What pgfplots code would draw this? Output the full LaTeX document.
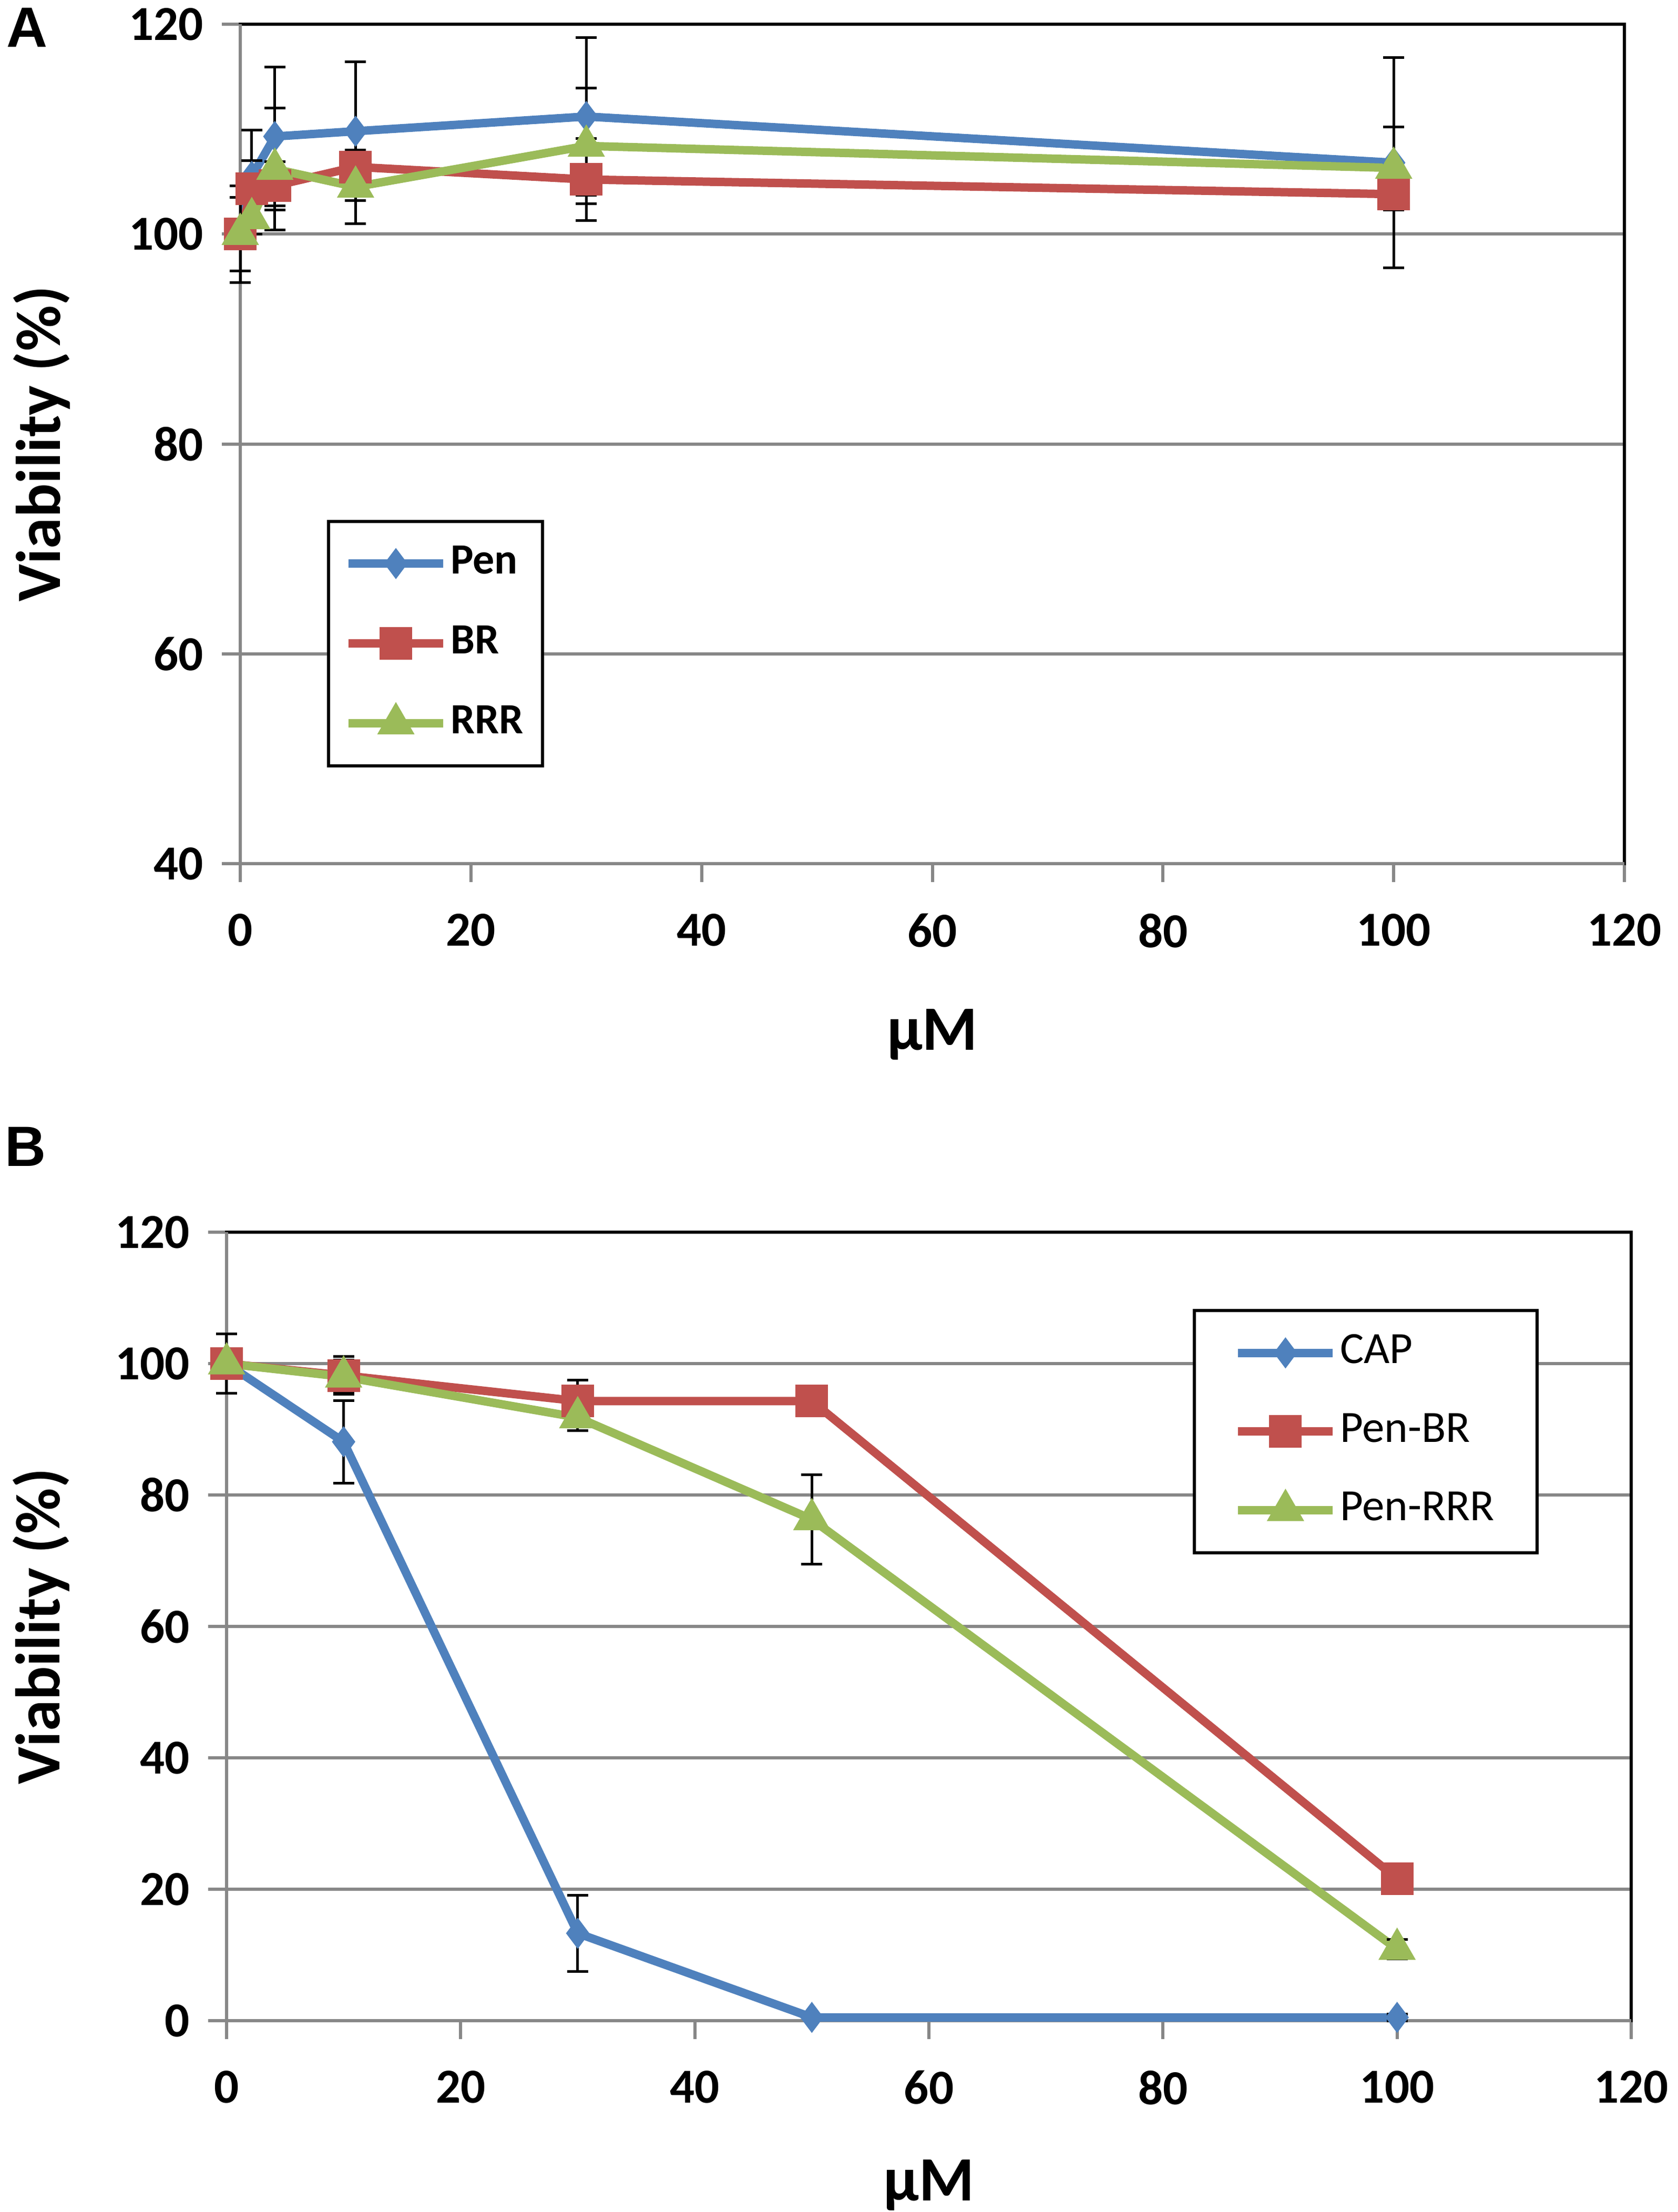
\documentclass[border=0pt]{standalone}
\usepackage{fontspec}
\setmainfont{Carlito}
\newfontfamily\arialfont{Liberation Sans}
\usepackage{pgfplots}
\pgfplotsset{compat=1.18}
\definecolor{xblue}{HTML}{4F81BD}
\definecolor{xred}{HTML}{C0504D}
\definecolor{xgreen}{HTML}{9BBB59}
\definecolor{xgrid}{HTML}{878787}

\pgfplotstableread{
x y e
0 100 4.6
1 105.5 4.4
3 109.3 6.6
10 109.8 6.6
30 111.2 7.5
100 106.8 10
}\penA
\pgfplotstableread{
x y e
0 100 3.5
1 104.3 2.7
3 104.6 2.3
10 106.4 1.5
30 105.2 3.9
100 103.8 1.5
}\brA
\pgfplotstableread{
x y e
0 100 4.6
1 101.5 1.5
3 106.2 5.8
10 104.5 3.5
30 108.4 5.5
100 106.3 3.9
}\rrrA
\pgfplotstableread{
x y e
0 100 4.5
10 88.1 6.3
30 13.3 5.8
50 0.5 0
100 0.5 0.5
}\capB
\pgfplotstableread{
x y e
0 100 2
10 98.2 2.9
30 94.3 3.2
50 94.3 0
100 21.6 1
}\brB
\pgfplotstableread{
x y e
0 100 1
10 98.0 2.5
30 91.8 2
50 76.3 6.8
100 10.9 1.5
}\rrrB

\pgfplotsset{
 excel/.style={
  scale only axis,
  clip=false,
  axis line style={black, line width=0.6pt},
  xmin=0, xmax=120, xtick={0,20,...,120},
  tick align=outside, xtick pos=left, ytick pos=left,
  major tick length=3.5pt,
  tick style={xgrid, line width=0.6pt},
  ymajorgrids, grid style={xgrid, line width=0.6pt},
  /pgf/number format/assume math mode=true,
  tick label style={font=\bfseries\fontsize{9.3}{11}\selectfont},
  xticklabel style={yshift=-2.5pt},
  label style={font=\bfseries\fontsize{12}{14}\selectfont},
  legend cell align=left,
  legend image code/.code={\draw[mark repeat=2,mark phase=2] plot coordinates {(0pt,0pt) (9pt,0pt) (18pt,0pt)};},
 },
 errs/.style={error bars/.cd, y dir=both, y explicit,
   error bar style={black, line width=0.5pt, solid},
   error mark=-,
   error mark options={black, line width=0.5pt, mark size=2pt, rotate=90}},
 sblue/.style={xblue, line width=1.6pt, mark=diamond*, mark size=2.8pt, mark options={solid, fill=xblue, draw=xblue, line width=0.2pt}},
 sred/.style={xred, line width=1.6pt, mark=square*, mark size=3pt, mark options={solid, fill=xred, draw=xred, line width=0.2pt}},
 sgreen/.style={xgreen, line width=1.6pt, mark=triangle*, mark size=3.9pt, mark options={solid, fill=xgreen, draw=xgreen, line width=0.2pt}},
}

\begin{document}
\begin{tikzpicture}
\useasboundingbox (0,0) rectangle (319.1pt,-420.8pt);
\node[anchor=base west, inner sep=0pt, font=\arialfont\bfseries\fontsize{10.8}{12}\selectfont] at (1.0pt,-8.9pt) {A};
\node[anchor=base west, inner sep=0pt, font=\arialfont\bfseries\fontsize{10.8}{12}\selectfont] at (0.7pt,-221.8pt) {B};

\begin{axis}[excel,
  at={(45.7pt,-4.6pt)}, anchor=north west,
  width=263.3pt, height=159.7pt,
  ymin=40, ymax=120, ytick={40,60,...,120},
  xlabel={μM}, ylabel={Viability (\%)},
  xlabel style={at={(axis description cs:0.5,-0.222)}, anchor=base},
  ylabel style={at={(axis description cs:-0.13,0.5)}, anchor=base, rotate=0},
  legend style={at={(0.0627,0.4095)}, anchor=north west, draw=black, line width=0.6pt,
    font=\bfseries\fontsize{8.2}{9}\selectfont, inner xsep=3pt, inner ysep=4pt,
    row sep=7.2pt, nodes={inner sep=0.6pt}},
]
\draw[xgrid, line width=0.6pt] (rel axis cs:0,1) -- (rel axis cs:0,0) -- (rel axis cs:1,0);
\addplot[sblue, errs] table[x=x, y=y, y error=e] {\penA};
\addplot[sred, errs] table[x=x, y=y, y error=e] {\brA};
\addplot[sgreen, errs] table[x=x, y=y, y error=e] {\rrrA};
\legend{Pen,BR,RRR}
\end{axis}

\begin{axis}[excel,
  at={(43.1pt,-234.4pt)}, anchor=north west,
  width=267.2pt, height=150pt,
  ymin=0, ymax=120, ytick={0,20,...,120},
  xlabel={μM}, ylabel={Viability (\%)},
  xlabel style={at={(axis description cs:0.5,-0.228)}, anchor=base},
  ylabel style={at={(axis description cs:-0.119,0.5)}, anchor=base, rotate=0},
  legend style={at={(0.688,0.903)}, anchor=north west, draw=black, line width=0.6pt,
    font=\fontsize{8.5}{9}\selectfont, inner xsep=7.5pt, inner ysep=4pt,
    row sep=6.8pt, nodes={inner sep=0.6pt}},
]
\draw[xgrid, line width=0.6pt] (rel axis cs:0,1) -- (rel axis cs:0,0) -- (rel axis cs:1,0);
\addplot[sblue, errs] table[x=x, y=y, y error=e] {\capB};
\addplot[sred, errs] table[x=x, y=y, y error=e] {\brB};
\addplot[sgreen, errs] table[x=x, y=y, y error=e] {\rrrB};
\legend{CAP,Pen-BR,Pen-RRR}
\end{axis}
\end{tikzpicture}
\end{document}
